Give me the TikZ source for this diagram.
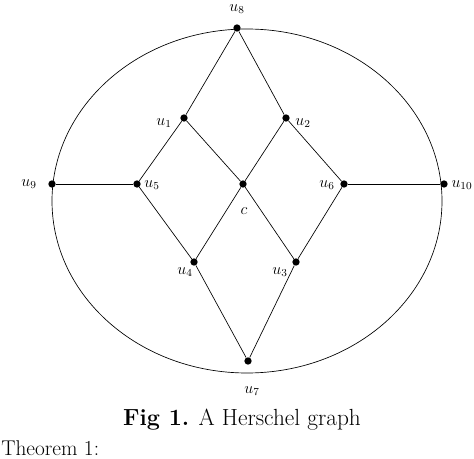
\documentclass[tikz,border=0pt]{standalone}
\usepackage{amsmath,amssymb}
\usepackage{tikz}

\tikzset{
  vertex/.style={circle, fill=black, inner sep=0pt, minimum size=5.5pt},
  vlabel/.style={inner sep=1pt, font=\large},
  edge/.style={line width=0.5pt}
}

\begin{document}
\begin{tikzpicture}[x=0.75pt, y=-0.75pt]
  \useasboundingbox (0,0) rectangle (474,459);

  % outer cycle
  \draw[edge] (247,201) ellipse [x radius=146.25pt, y radius=129pt];

  \node[vertex] (u8)  at (237, 28) {};
  \node[vertex] (u1)  at (184,118) {};
  \node[vertex] (u2)  at (286,118) {};
  \node[vertex] (u9)  at ( 52,184) {};
  \node[vertex] (u5)  at (137,184) {};
  \node[vertex] (c)   at (243,184) {};
  \node[vertex] (u6)  at (344,184) {};
  \node[vertex] (u10) at (444,184) {};
  \node[vertex] (u4)  at (194,262) {};
  \node[vertex] (u3)  at (296,262) {};
  \node[vertex] (u7)  at (248,361) {};

  \node[vlabel] (l8)  at (237,  9) {$u_8$};
  \node[vlabel] (l1)  at (164,123) {$u_1$};
  \node[vlabel] (l2)  at (303,123) {$u_2$};
  \node[vlabel] (l9)  at ( 29,184) {$u_9$};
  \node[vlabel] (l5)  at (152,185) {$u_5$};
  \node[vlabel] (lc)  at (244,211) {$c$};
  \node[vlabel] (l6)  at (327,185) {$u_6$};
  \node[vlabel] (l10) at (462,185) {$u_{10}$};
  \node[vlabel] (l4)  at (185,272) {$u_4$};
  \node[vlabel] (l3)  at (280,272) {$u_3$};
  \node[vlabel] (l7)  at (252,391) {$u_7$};

  \draw[edge] (u8) -- (u1);
  \draw[edge] (u8) -- (u2);

  \draw[edge] (u1) -- (u5);
  \draw[edge] (u1) -- (c);
  \draw[edge] (u2) -- (c);
  \draw[edge] (u2) -- (u6);

  \draw[edge] (u9) -- (u5);
  \draw[edge] (u6) -- (u10);

  \draw[edge] (u5) -- (u4);
  \draw[edge] (c)  -- (u4);
  \draw[edge] (c)  -- (u3);
  \draw[edge] (u6) -- (u3);

  \draw[edge] (u4) -- (u7);
  \draw[edge] (u3) -- (u7);

  \node (cap) at (242,420) {\fontsize{17.5}{20}\selectfont\textbf{Fig 1.} A Herschel graph};
  \node[anchor=base west, inner sep=0pt] (thm) at (1,455) {\fontsize{16}{19}\selectfont Theorem 1:};
\end{tikzpicture}
\end{document}
